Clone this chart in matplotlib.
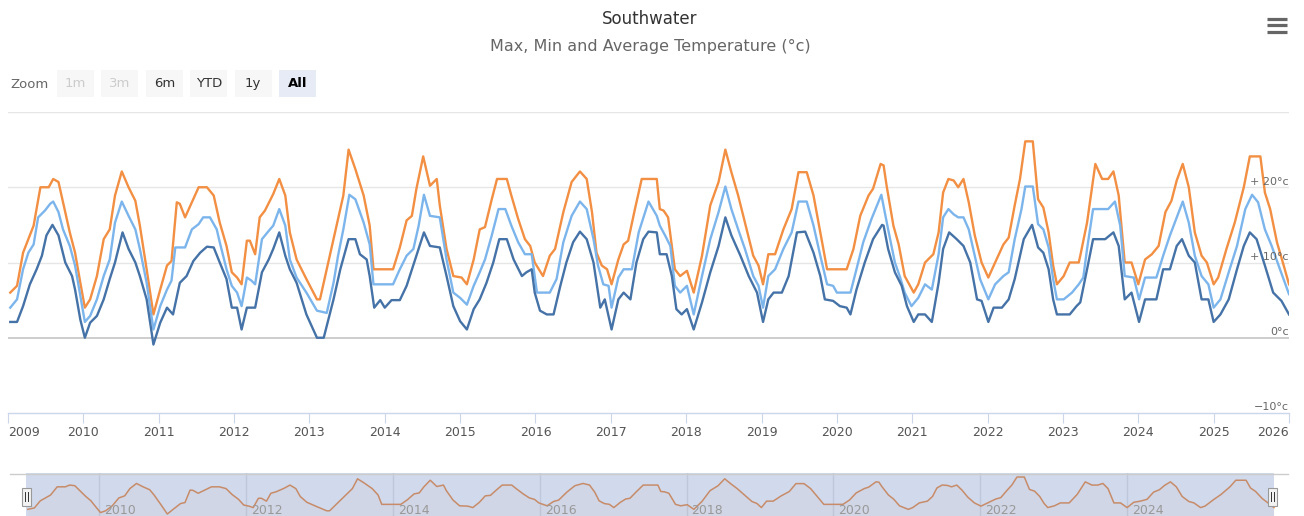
import matplotlib
matplotlib.use("Agg")
import matplotlib.pyplot as plt
from matplotlib.patches import Rectangle
from matplotlib.lines import Line2D
from matplotlib.transforms import blended_transform_factory, offset_copy

# ---------------- data (decimal year, °C) ----------------
max_t = [2009.03, 2009.12, 2009.20, 2009.34, 2009.43, 2009.54, 2009.60, 2009.67, 2009.73, 2009.82,
         2009.89, 2009.96, 2010.02, 2010.09, 2010.18, 2010.27, 2010.35, 2010.42, 2010.51, 2010.60,
         2010.69, 2010.75, 2010.84, 2010.93, 2011.02, 2011.11, 2011.17, 2011.24, 2011.28, 2011.35,
         2011.44, 2011.53, 2011.64, 2011.73, 2011.81, 2011.90, 2011.97, 2012.04, 2012.10, 2012.17,
         2012.21, 2012.28, 2012.34, 2012.41, 2012.52, 2012.60, 2012.68, 2012.74, 2012.83, 2012.96,
         2013.10, 2013.14, 2013.27, 2013.38, 2013.45, 2013.52, 2013.61, 2013.72, 2013.80, 2013.85,
         2014.11, 2014.20, 2014.29, 2014.36, 2014.42, 2014.51, 2014.60, 2014.69, 2014.73, 2014.82,
         2014.91, 2015.02, 2015.09, 2015.18, 2015.26, 2015.33, 2015.42, 2015.49, 2015.62, 2015.68,
         2015.77, 2015.86, 2015.93, 2015.99, 2016.10, 2016.19, 2016.26, 2016.37, 2016.48, 2016.59,
         2016.68, 2016.75, 2016.81, 2016.88, 2016.95, 2017.01, 2017.10, 2017.17, 2017.23, 2017.32,
         2017.41, 2017.61, 2017.65, 2017.70, 2017.76, 2017.85, 2017.92, 2018.01, 2018.10, 2018.21,
         2018.32, 2018.43, 2018.52, 2018.60, 2018.69, 2018.78, 2018.89, 2018.96, 2019.02, 2019.09,
         2019.18, 2019.29, 2019.40, 2019.49, 2019.60, 2019.69, 2019.78, 2019.87, 2020.13, 2020.22,
         2020.31, 2020.42, 2020.48, 2020.58, 2020.62, 2020.66, 2020.75, 2020.82, 2020.90, 2021.02,
         2021.08, 2021.17, 2021.28, 2021.35, 2021.41, 2021.48, 2021.55, 2021.61, 2021.68, 2021.75,
         2021.83, 2021.92, 2022.01, 2022.10, 2022.21, 2022.28, 2022.36, 2022.43, 2022.50, 2022.60,
         2022.67, 2022.74, 2022.81, 2022.87, 2022.92, 2023.01, 2023.09, 2023.21, 2023.23, 2023.32,
         2023.43, 2023.52, 2023.60, 2023.67, 2023.74, 2023.82, 2023.91, 2024.00, 2024.09, 2024.18,
         2024.27, 2024.36, 2024.44, 2024.51, 2024.59, 2024.67, 2024.75, 2024.84, 2024.91, 2025.00,
         2025.06, 2025.17, 2025.28, 2025.40, 2025.48, 2025.62, 2025.68, 2025.75, 2025.84, 2025.93,
         2026.00]
max_v = [6.0, 6.9, 11.3, 14.9, 20.0, 20.0, 21.1, 20.7, 18.0, 14.0,
         11.3, 7.3, 4.0, 5.1, 8.2, 13.1, 14.4, 18.9, 22.1, 20.0,
         18.2, 14.9, 9.1, 3.1, 6.4, 9.6, 10.2, 18.0, 17.8, 16.0,
         18.0, 20.0, 20.0, 18.9, 15.3, 12.2, 8.7, 8.0, 7.1, 12.9,
         12.9, 11.1, 16.0, 16.9, 19.1, 21.1, 18.9, 14.0, 10.4, 7.8,
         5.1, 5.1, 10.9, 15.8, 18.9, 25.0, 22.4, 18.9, 14.9, 9.1,
         9.1, 12.0, 15.6, 16.2, 19.8, 24.1, 20.2, 21.1, 17.6, 11.8,
         8.2, 8.0, 7.1, 10.4, 14.4, 14.7, 18.4, 21.1, 21.1, 18.9,
         15.8, 13.1, 12.2, 10.0, 8.2, 10.9, 11.8, 16.7, 20.7, 22.1,
         21.1, 16.7, 11.3, 9.6, 9.1, 7.1, 10.4, 12.4, 12.9, 17.1,
         21.1, 21.1, 17.1, 16.9, 16.0, 9.1, 8.2, 8.9, 6.0, 10.9,
         17.6, 20.7, 25.0, 22.0, 18.9, 15.3, 10.9, 9.6, 7.1, 11.1,
         11.1, 14.4, 17.1, 22.0, 22.0, 18.9, 14.0, 9.1, 9.1, 11.8,
         16.2, 18.9, 19.8, 23.1, 22.9, 20.2, 14.9, 12.4, 8.2, 6.0,
         7.1, 10.0, 11.1, 14.0, 19.3, 21.1, 20.9, 20.0, 21.1, 18.0,
         13.6, 10.0, 8.0, 10.0, 12.4, 13.3, 17.6, 21.1, 26.1, 26.1,
         18.4, 17.3, 14.0, 9.6, 7.1, 8.2, 10.0, 10.0, 10.9, 15.3,
         23.1, 21.1, 21.1, 22.1, 18.9, 10.0, 10.0, 7.1, 10.4, 11.1,
         12.2, 16.7, 18.2, 20.9, 23.1, 20.0, 14.0, 10.9, 10.0, 7.1,
         8.0, 11.8, 15.3, 20.0, 24.1, 24.1, 19.3, 17.1, 12.7, 9.6,
         7.1]

avg_t = [2009.03, 2009.12, 2009.20, 2009.27, 2009.34, 2009.40, 2009.49, 2009.56, 2009.60, 2009.67,
         2009.73, 2009.82, 2009.89, 2009.96, 2010.02, 2010.09, 2010.18, 2010.27, 2010.35, 2010.42,
         2010.51, 2010.60, 2010.69, 2010.75, 2010.84, 2010.93, 2011.02, 2011.11, 2011.17, 2011.22,
         2011.35, 2011.44, 2011.53, 2011.59, 2011.68, 2011.77, 2011.81, 2011.90, 2011.97, 2012.04,
         2012.10, 2012.17, 2012.23, 2012.28, 2012.37, 2012.46, 2012.52, 2012.60, 2012.68, 2012.74,
         2012.83, 2012.96, 2013.10, 2013.23, 2013.32, 2013.38, 2013.45, 2013.53, 2013.61, 2013.72,
         2013.80, 2013.85, 2014.11, 2014.20, 2014.29, 2014.38, 2014.45, 2014.52, 2014.60, 2014.73,
         2014.82, 2014.91, 2015.00, 2015.09, 2015.18, 2015.26, 2015.33, 2015.42, 2015.51, 2015.60,
         2015.68, 2015.77, 2015.86, 2015.95, 2016.02, 2016.19, 2016.28, 2016.37, 2016.48, 2016.59,
         2016.68, 2016.77, 2016.83, 2016.90, 2016.97, 2017.01, 2017.10, 2017.17, 2017.28, 2017.37,
         2017.50, 2017.61, 2017.65, 2017.72, 2017.79, 2017.85, 2017.92, 2018.01, 2018.10, 2018.21,
         2018.32, 2018.43, 2018.52, 2018.60, 2018.69, 2018.78, 2018.89, 2018.96, 2019.02, 2019.09,
         2019.18, 2019.29, 2019.40, 2019.49, 2019.60, 2019.69, 2019.78, 2019.87, 2019.95, 2020.00,
         2020.18, 2020.26, 2020.35, 2020.46, 2020.59, 2020.68, 2020.77, 2020.84, 2020.90, 2020.99,
         2021.08, 2021.17, 2021.26, 2021.35, 2021.41, 2021.48, 2021.55, 2021.61, 2021.68, 2021.75,
         2021.83, 2021.90, 2022.01, 2022.10, 2022.21, 2022.28, 2022.36, 2022.45, 2022.50, 2022.60,
         2022.67, 2022.74, 2022.81, 2022.87, 2022.92, 2023.01, 2023.12, 2023.21, 2023.27, 2023.32,
         2023.40, 2023.60, 2023.69, 2023.76, 2023.82, 2023.94, 2024.01, 2024.09, 2024.24, 2024.33,
         2024.42, 2024.51, 2024.59, 2024.67, 2024.75, 2024.84, 2024.93, 2025.00, 2025.09, 2025.20,
         2025.31, 2025.42, 2025.51, 2025.59, 2025.68, 2025.77, 2025.88, 2026.00]
avg_v = [4.0, 5.1, 9.1, 11.3, 12.4, 16.0, 16.9, 17.8, 18.1, 16.7,
         14.4, 12.2, 9.6, 5.6, 2.1, 2.9, 5.1, 8.2, 10.4, 15.3,
         18.1, 16.2, 14.4, 11.8, 7.3, 1.1, 4.2, 6.4, 7.6, 12.0,
         12.0, 14.4, 15.1, 16.0, 16.0, 14.4, 12.7, 9.1, 6.9, 6.0,
         4.2, 8.0, 7.6, 7.1, 13.1, 14.2, 14.9, 17.1, 14.9, 10.4,
         8.0, 6.0, 3.6, 3.3, 7.3, 10.9, 14.4, 19.0, 18.4, 15.3,
         12.4, 7.1, 7.1, 9.1, 10.9, 11.8, 14.9, 19.0, 16.2, 16.0,
         10.4, 6.0, 5.3, 4.4, 6.9, 8.7, 10.4, 13.6, 17.1, 17.1,
         14.9, 12.7, 11.1, 11.1, 6.0, 6.0, 7.8, 12.7, 16.2, 18.1,
         17.1, 13.1, 9.6, 7.1, 6.9, 4.0, 8.0, 9.1, 9.1, 14.0,
         18.1, 16.2, 14.9, 13.6, 12.2, 6.9, 6.0, 6.9, 3.1, 8.2,
         13.1, 16.7, 20.1, 17.1, 14.4, 11.8, 8.2, 6.9, 4.0, 8.2,
         9.1, 11.8, 14.0, 18.1, 18.1, 14.9, 10.9, 7.1, 6.9, 6.0,
         6.0, 9.1, 12.7, 15.8, 19.0, 14.4, 10.0, 8.0, 6.0, 4.2,
         5.3, 7.1, 6.4, 11.1, 16.0, 17.1, 16.4, 16.0, 16.0, 14.4,
         10.9, 7.8, 5.1, 7.1, 8.2, 8.7, 13.1, 17.1, 20.1, 20.1,
         15.1, 14.4, 12.0, 7.8, 5.1, 5.1, 6.0, 7.1, 8.0, 11.8,
         17.1, 17.1, 18.1, 14.9, 8.2, 8.0, 5.1, 8.0, 8.0, 10.9,
         13.6, 16.0, 18.1, 15.3, 10.9, 8.2, 7.1, 4.0, 5.1, 8.7,
         12.2, 17.1, 19.0, 18.0, 14.4, 12.2, 9.1, 5.8]

min_t = [2009.03, 2009.12, 2009.20, 2009.29, 2009.38, 2009.45, 2009.51, 2009.59, 2009.67, 2009.76,
         2009.85, 2009.89, 2009.96, 2010.02, 2010.09, 2010.18, 2010.27, 2010.35, 2010.42, 2010.52,
         2010.60, 2010.69, 2010.75, 2010.84, 2010.93, 2011.02, 2011.11, 2011.19, 2011.28, 2011.37,
         2011.46, 2011.55, 2011.64, 2011.73, 2011.81, 2011.90, 2011.97, 2012.04, 2012.10, 2012.17,
         2012.28, 2012.37, 2012.46, 2012.52, 2012.60, 2012.68, 2012.74, 2012.83, 2012.96, 2013.10,
         2013.19, 2013.32, 2013.41, 2013.52, 2013.61, 2013.67, 2013.76, 2013.80, 2013.86, 2013.94,
         2014.00, 2014.09, 2014.20, 2014.29, 2014.42, 2014.52, 2014.60, 2014.73, 2014.82, 2014.91,
         2015.00, 2015.09, 2015.18, 2015.26, 2015.35, 2015.44, 2015.52, 2015.62, 2015.71, 2015.82,
         2015.88, 2015.95, 2015.99, 2016.06, 2016.15, 2016.24, 2016.33, 2016.41, 2016.50, 2016.59,
         2016.68, 2016.77, 2016.86, 2016.92, 2017.01, 2017.10, 2017.17, 2017.26, 2017.34, 2017.43,
         2017.50, 2017.61, 2017.65, 2017.74, 2017.81, 2017.87, 2017.94, 2018.01, 2018.10, 2018.21,
         2018.32, 2018.43, 2018.52, 2018.60, 2018.72, 2018.83, 2018.94, 2019.02, 2019.09, 2019.16,
         2019.27, 2019.36, 2019.47, 2019.58, 2019.69, 2019.78, 2019.84, 2019.95, 2020.04, 2020.13,
         2020.18, 2020.26, 2020.37, 2020.48, 2020.60, 2020.62, 2020.68, 2020.77, 2020.86, 2020.93,
         2021.02, 2021.08, 2021.17, 2021.26, 2021.35, 2021.41, 2021.49, 2021.59, 2021.68, 2021.77,
         2021.86, 2021.92, 2022.01, 2022.08, 2022.19, 2022.28, 2022.36, 2022.48, 2022.59, 2022.67,
         2022.74, 2022.81, 2022.87, 2022.92, 2023.09, 2023.18, 2023.23, 2023.32, 2023.40, 2023.56,
         2023.67, 2023.74, 2023.82, 2023.91, 2024.01, 2024.09, 2024.24, 2024.33, 2024.42, 2024.51,
         2024.58, 2024.67, 2024.75, 2024.84, 2024.93, 2025.00, 2025.09, 2025.20, 2025.31, 2025.40,
         2025.48, 2025.57, 2025.68, 2025.79, 2025.90, 2026.00]
min_v = [2.1, 2.1, 4.2, 7.1, 9.1, 10.9, 13.6, 15.0, 13.6, 10.0,
         8.2, 6.4, 2.4, 0.0, 2.0, 2.9, 5.1, 7.8, 10.0, 14.0,
         11.8, 10.0, 8.2, 5.1, -0.9, 2.0, 4.0, 3.1, 7.3, 8.2,
         10.2, 11.3, 12.1, 12.0, 10.0, 7.8, 4.0, 4.0, 1.1, 4.0,
         4.0, 8.7, 10.4, 11.8, 14.0, 10.9, 9.1, 7.3, 3.1, 0.0,
         0.0, 5.1, 9.1, 13.1, 13.1, 11.1, 10.4, 8.2, 4.0, 5.0,
         4.0, 5.0, 5.0, 6.9, 10.9, 14.0, 12.2, 12.0, 8.2, 4.2,
         2.2, 1.1, 3.8, 5.1, 7.3, 10.0, 13.1, 13.1, 10.4, 8.2,
         8.7, 9.1, 6.0, 3.6, 3.1, 3.1, 6.9, 10.0, 12.7, 14.1,
         13.1, 10.0, 4.0, 5.1, 1.1, 5.1, 6.0, 5.1, 10.0, 13.1,
         14.1, 14.0, 11.1, 11.1, 8.2, 3.8, 3.1, 3.8, 1.1, 4.7,
         8.7, 12.2, 16.0, 13.6, 10.9, 8.2, 6.0, 2.1, 5.1, 6.0,
         6.0, 8.2, 14.0, 14.1, 11.3, 8.2, 5.1, 4.9, 4.2, 4.0,
         3.1, 6.4, 10.0, 13.1, 15.0, 14.9, 11.8, 8.7, 6.9, 4.2,
         2.1, 3.1, 3.1, 2.1, 7.3, 11.8, 14.0, 13.1, 12.2, 10.0,
         5.1, 4.9, 2.1, 4.0, 4.0, 5.1, 7.8, 13.1, 15.0, 12.0,
         11.3, 9.1, 5.1, 3.1, 3.1, 4.2, 4.7, 9.1, 13.1, 13.1,
         14.0, 12.2, 5.1, 6.0, 2.1, 5.1, 5.1, 9.1, 9.1, 12.2,
         13.1, 10.9, 10.0, 5.1, 5.1, 2.1, 3.1, 5.1, 9.1, 12.2,
         14.0, 13.1, 9.6, 6.0, 4.9, 3.1]

years = list(range(2009, 2027))
nav_years = list(range(2010, 2026, 2))
y_ticks = [-10, 0, 10, 20]
y_labels = ["\u221210\u00b0c", "0\u00b0c", "+ 10\u00b0c", "+ 20\u00b0c"]
buttons = ["1m", "3m", "6m", "YTD", "1y", "All"]
button_state = ["disabled", "disabled", "normal", "normal", "normal", "selected"]

C_MAX = "#f28f43"
C_AVG = "#7cb5ec"
C_MIN = "#4572a7"

# ---------------- layout helpers ----------------
W, H = 1304, 516
plt.rcParams["font.family"] = ["DejaVu Sans"]
fig = plt.figure(figsize=(W / 100, H / 100), dpi=100)
fig.patch.set_facecolor("white")


def fx(x):
    return x / W


def fy(y):
    return 1 - y / H


# ---------------- titles ----------------
fig.text(fx(650), fy(19), "Southwater", ha="center", va="center", fontsize=12, color="#333333")
fig.text(fx(650), fy(46), "Max, Min and Average Temperature (\u00b0c)", ha="center", va="center",
         fontsize=11.5, color="#666666")

# hamburger menu
for yy in (18.5, 25.0, 31.5):
    fig.add_artist(Line2D([fx(1267), fx(1287)], [fy(yy), fy(yy)], lw=2.3, color="#666666",
                          solid_capstyle="butt"))

# range selector
fig.text(fx(10), fy(84), "Zoom", ha="left", va="center", fontsize=9.5, color="#666666")
for i, (lab, st) in enumerate(zip(buttons, button_state)):
    x0 = 57 + i * 44.4
    face = "#e6ebf5" if st == "selected" else "#f7f7f7"
    fig.add_artist(Rectangle((fx(x0), fy(97)), 37 / W, 27 / H, transform=fig.transFigure,
                             facecolor=face, edgecolor="none"))
    col = {"disabled": "#cccccc", "normal": "#333333", "selected": "#000000"}[st]
    fig.text(fx(x0 + 18.5), fy(83.5), lab, ha="center", va="center", fontsize=9.5, color=col,
             fontweight="bold" if st == "selected" else "normal")

# ---------------- main chart ----------------
ax = fig.add_axes([fx(8), fy(413), 1281 / W, 301 / H])
ax.set_xlim(2009, 2026)
ax.set_ylim(-10, 30)
for v in (10, 20, 30):
    ax.axhline(v, color="#e6e6e6", lw=1, zorder=1)
ax.axhline(0, color="#c0c0c0", lw=1.1, zorder=1)

ax.plot(max_t, max_v, color=C_MAX, lw=1.7, zorder=3, solid_joinstyle="round")
ax.plot(avg_t, avg_v, color=C_AVG, lw=1.7, zorder=4, solid_joinstyle="round")
ax.plot(min_t, min_v, color=C_MIN, lw=1.7, zorder=5, solid_joinstyle="round")

for s in ("top", "left", "right"):
    ax.spines[s].set_visible(False)
ax.spines["bottom"].set_color("#ccd6eb")
ax.spines["bottom"].set_linewidth(1)
ax.set_yticks([])
ax.set_xticks(years)
ax.set_xticklabels([str(y) for y in years])
ax.tick_params(axis="x", direction="out", length=7.2, width=0.8, color="#ccd6eb",
               labelcolor="#555555", labelsize=9, pad=2.5)
tl = ax.get_xticklabels()
tl[0].set_ha("left")
tl[-1].set_ha("right")

ytrans = offset_copy(blended_transform_factory(ax.transAxes, ax.transData), fig=fig, y=2.5,
                     units="dots")
for v, lab in zip(y_ticks, y_labels):
    ax.text(1.0, v, lab, transform=ytrans, ha="right", va="baseline", fontsize=8,
            color="#666666", zorder=6)

# ---------------- navigator ----------------
px_per_year = (1274 - 25.6) / 17
nav = fig.add_axes([fx(10), 0, (1288 - 10) / W, 43 / H])
nav.set_xlim(2009 - (25.6 - 10) / px_per_year, 2026 + (1288 - 1274) / px_per_year)
nav.set_ylim(1.86, 28.6)
nav.axis("off")
for yr in nav_years:
    nav.axvline(yr, color="#e6e6e6", lw=1, zorder=1)
nav.fill_between(max_t, max_v, 1.86, color=C_MAX, alpha=0.05, lw=0, zorder=1.5)
nav.plot(max_t, max_v, color=C_MAX, lw=1.1, zorder=2)
nav.axvspan(2009, 2026, facecolor=(102 / 255, 133 / 255, 194 / 255, 0.3), lw=0, zorder=3)
ntrans = offset_copy(blended_transform_factory(nav.transData, nav.transAxes), fig=fig, x=5,
                     units="dots")
for yr in nav_years:
    nav.text(yr, 0.05, str(yr), transform=ntrans, ha="left", va="baseline", fontsize=9,
             color="#999999", zorder=4)

fig.add_artist(Line2D([fx(10), fx(1288)], [fy(473.5), fy(473.5)], lw=1, color="#cccccc"))

for cx in (26.5, 1272.5):
    fig.add_artist(Rectangle((fx(cx - 4.5), fy(506)), 9 / W, 18 / H, transform=fig.transFigure,
                             facecolor="#f2f2f2", edgecolor="#999999", lw=0.8, zorder=5))
    for dx in (-1.2, 1.2):
        fig.add_artist(Line2D([fx(cx + dx), fx(cx + dx)], [fy(492), fy(501)], lw=0.7,
                              color="#333333", zorder=6))

fig.savefig("out.png", dpi=100, facecolor="white")
